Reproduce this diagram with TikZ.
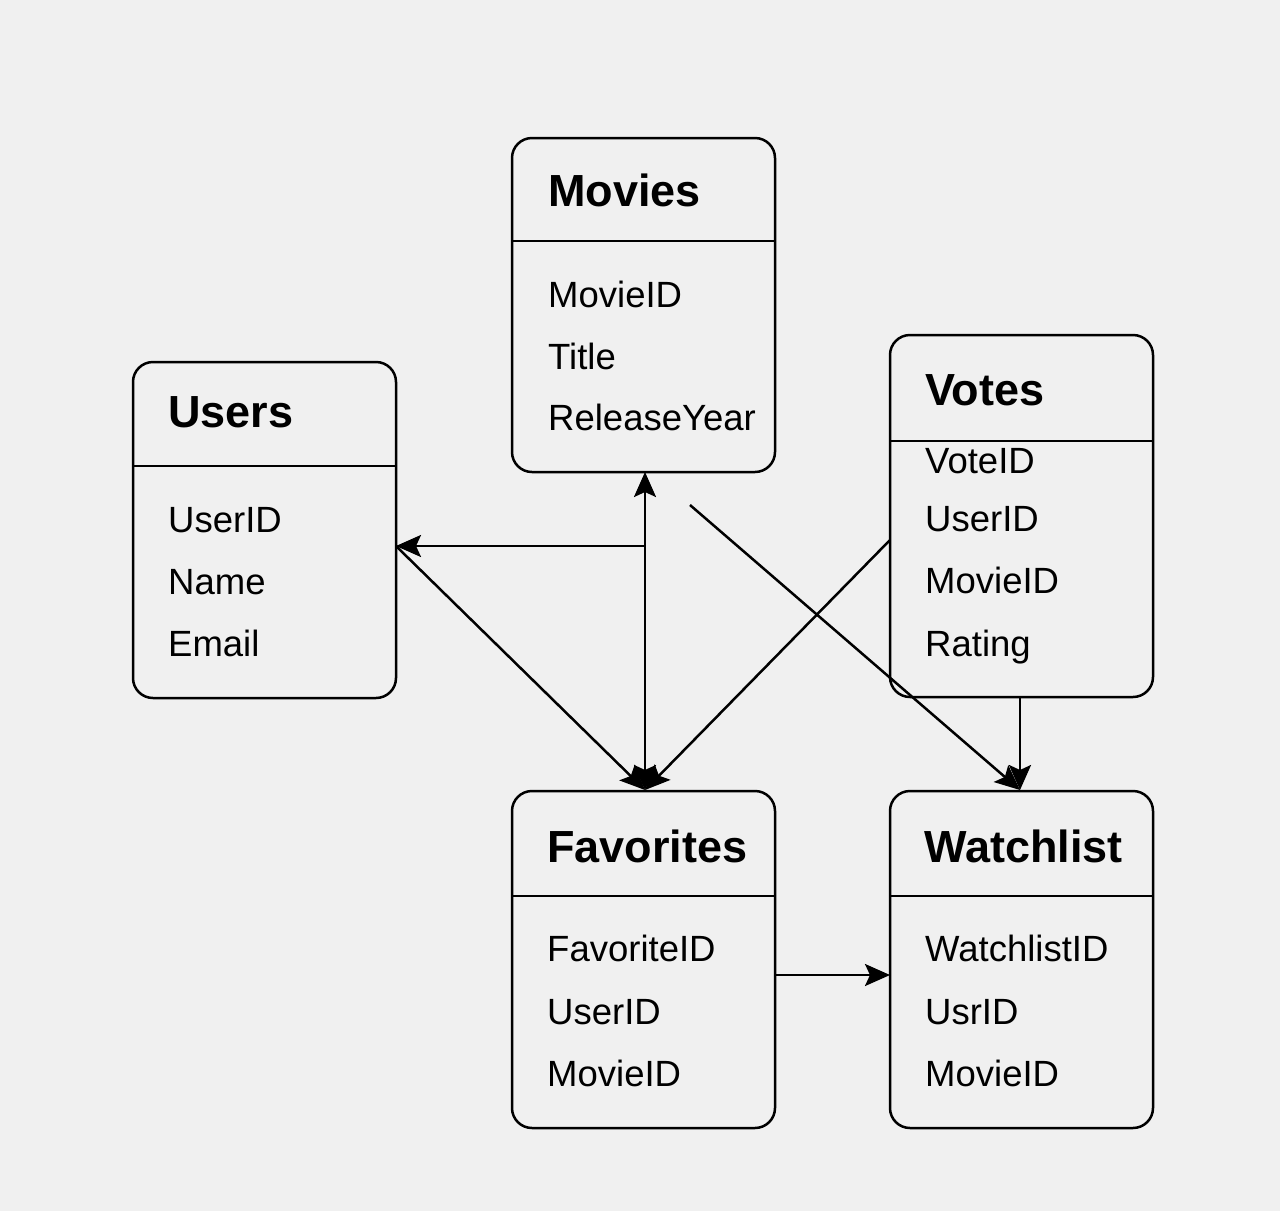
\documentclass[tikz,border=0pt]{standalone}
\usepackage{fontspec}
\setmainfont{Liberation Sans}
\usetikzlibrary{arrows.meta}
\definecolor{bg}{HTML}{F0F0F0}
\begin{document}
\begin{tikzpicture}[x=1pt,y=-1pt,
  tbl/.style={draw=black, line width=2.5pt, rounded corners=20pt, fill=bg, inner sep=0pt},
  ttl/.style={anchor=base west, inner sep=0pt, font=\fontsize{45}{48}\selectfont\bfseries},
  fld/.style={anchor=base west, inner sep=0pt, font=\fontsize{36.5}{40}\selectfont},
  hdr/.style={line width=2.2pt},
  erhead/.tip={Stealth[length=25pt,width=22pt,inset=5pt]},
  con/.style={line width=2.5pt, -erhead},
  bicon/.style={line width=2.5pt, erhead-erhead}]
\fill[bg] (0,0) rectangle (1280,1211);
\useasboundingbox (0,0) rectangle (1280,1211);
% Movies
\node[tbl, minimum width=263pt, minimum height=334pt] (movies) at (643.5,305) {};
\draw[hdr] (512,241) -- (775,241);
\node[ttl] (moviesT) at (548,206) {Movies};
\node[fld] (m1) at (548,307) {MovieID};
\node[fld] (m2) at (548,369) {Title};
\node[fld] (m3) at (548,430) {ReleaseYear};
% Users
\node[tbl, minimum width=263pt, minimum height=336pt] (users) at (264.5,530) {};
\draw[hdr] (133,466) -- (396,466);
\node[ttl] (usersT) at (168,427) {Users};
\node[fld] (u1) at (168,532) {UserID};
\node[fld] (u2) at (168,594) {Name};
\node[fld] (u3) at (168,656) {Email};
% Votes
\node[tbl, minimum width=263pt, minimum height=362pt] (votes) at (1021.5,516) {};
\draw[hdr] (890,441) -- (1153,441);
\node[ttl] (votesT) at (925,405) {Votes};
\node[fld] (v1) at (925,473) {VoteID};
\node[fld] (v2) at (925,531) {UserID};
\node[fld] (v3) at (925,593) {MovieID};
\node[fld] (v4) at (925,656) {Rating};
% Favorites
\node[tbl, minimum width=263pt, minimum height=337pt] (fav) at (643.5,959.5) {};
\draw[hdr] (512,896) -- (775,896);
\node[ttl] (favT) at (547,862) {Favorites};
\node[fld] (f1) at (547,961) {FavoriteID};
\node[fld] (f2) at (547,1024) {UserID};
\node[fld] (f3) at (547,1086) {MovieID};
% Watchlist
\node[tbl, minimum width=263pt, minimum height=337pt] (watch) at (1021.5,959.5) {};
\draw[hdr] (890,896) -- (1153,896);
\node[ttl] (watchT) at (924,862) {Watchlist};
\node[fld] (w1) at (925,961) {WatchlistID};
\node[fld] (w2) at (925,1024) {UsrID};
\node[fld] (w3) at (925,1086) {MovieID};
% connector points
\coordinate (j1) at (645,546);
\coordinate (ue) at (396,546);
\coordinate (vw) at (890,540);
\coordinate (ms) at (690,505);
\coordinate (fe) at (775,975);
\coordinate (ww) at (890,975);
\coordinate (mb) at (645,472);
\coordinate (ft) at (645,790);
\coordinate (wt) at (1020,790);
\coordinate (vb) at (1020,697);
% connectors
\draw[bicon] (mb) -- (ft);
\draw[con] (j1) -- (ue);
\draw[con] (ue) -- (ft);
\draw[con] (vw) -- (ft);
\draw[con] (ms) -- (wt);
\draw[con] (vb) -- (wt);
\draw[con] (fe) -- (ww);
\end{tikzpicture}
\end{document}
